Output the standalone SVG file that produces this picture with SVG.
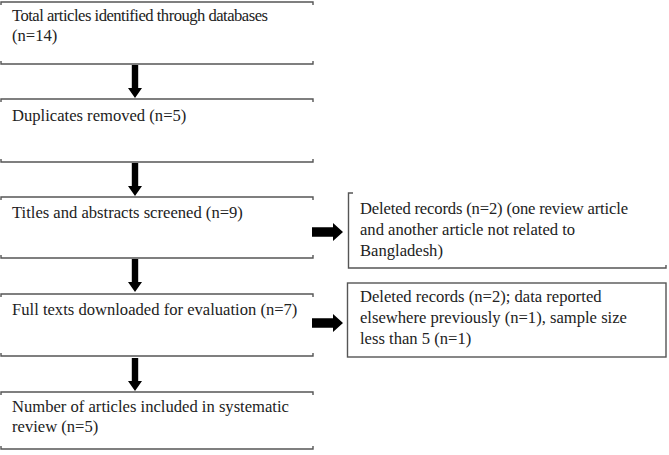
<svg xmlns="http://www.w3.org/2000/svg" width="669" height="455" viewBox="0 0 669 455">
<style>
.t{font-family:"Liberation Serif","Times New Roman",serif;font-size:16.6px;fill:#222}
.b{fill:none;stroke:#555;stroke-width:1.4}
.a{fill:#000}
</style>
<defs>
<path id="ad" d="M-3.2,0 H3.2 V23 H7 L0,33 L-7,23 H-3.2 Z"/>
<path id="ar" d="M0,-4.8 H21 V-9 L31,0 L21,9 V4.8 H0 Z"/>
</defs>
<rect width="669" height="455" fill="#fff"/>
<g id="n1">
<path class="b" d="M1,5 V2 H313 V5 M1,61 V64 H313 V61"/>
<text class="t" x="12" y="21" textLength="256">Total articles identified through databases</text>
<text class="t" x="12" y="41">(n=14)</text>
</g>
<g id="n2">
<path class="b" d="M1,102 V99 H313 V102 M1,159 V162 H313 V159"/>
<text class="t" x="12" y="121">Duplicates removed (n=5)</text>
</g>
<g id="n3">
<path class="b" d="M1,200 V197 H313 V200 M1,255 V258 H313 V255"/>
<text class="t" x="12" y="218">Titles and abstracts screened (n=9)</text>
</g>
<g id="n4">
<path class="b" d="M1,297 V294 H313 V297 M1,353 V356 H313 V353"/>
<text class="t" x="12" y="315">Full texts downloaded for evaluation (n=7)</text>
</g>
<g id="n5">
<path class="b" d="M1,395 V392 H313 V395 M1,446 V449 H313 V446"/>
<text class="t" x="12" y="412">Number of articles included in systematic</text>
<text class="t" x="12" y="432">review (n=5)</text>
</g>
<g id="r1">
<path class="b" d="M353,193 H348.5 V268 H666 V265"/>
<text class="t" x="360" y="214" textLength="268">Deleted records (n=2) (one review article</text>
<text class="t" x="360" y="235">and another article not related to</text>
<text class="t" x="360" y="256">Bangladesh)</text>
</g>
<g id="r2">
<rect class="b" x="347.5" y="283" width="318.5" height="74"/>
<text class="t" x="360" y="302">Deleted records (n=2); data reported</text>
<text class="t" x="360" y="323">elsewhere previously (n=1), sample size</text>
<text class="t" x="360" y="344">less than 5 (n=1)</text>
</g>
<g id="connectors">
<use href="#ad" class="a" x="135" y="65"/>
<use href="#ad" class="a" x="135" y="163"/>
<use href="#ad" class="a" x="135" y="259"/>
<use href="#ad" class="a" x="135" y="358"/>
<use href="#ar" class="a" x="312" y="232"/>
<use href="#ar" class="a" x="312" y="323"/>
</g>
</svg>
